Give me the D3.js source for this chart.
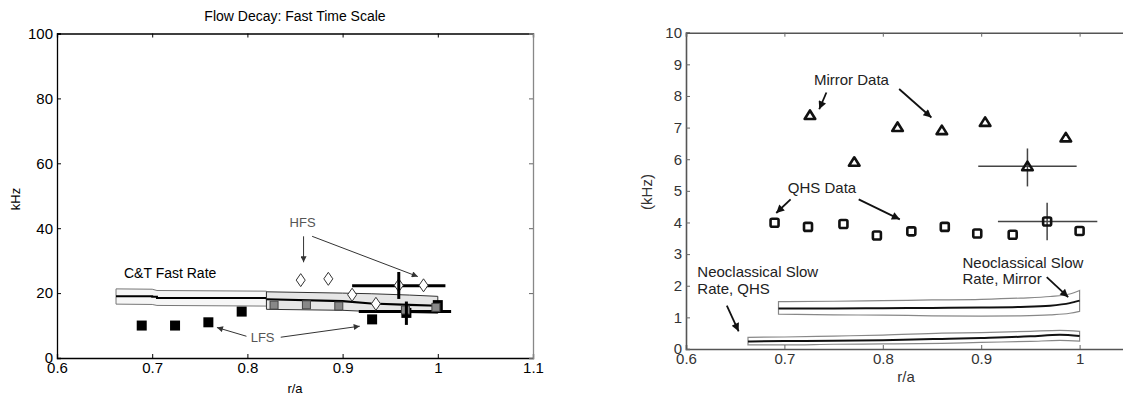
<!DOCTYPE html>
<html>
<head>
<meta charset="utf-8">
<script src="https://cdn.jsdelivr.net/npm/d3@7"></script>
<style>
  body { margin: 0; background: #fff; }
  svg { display: block; font-family: "Liberation Sans", Arial, sans-serif; }
</style>
</head>
<body>
<svg id="chart" width="1123" height="398"></svg>
<script>
"use strict";

// ---- data ----
const xTicks = [0.6, 0.7, 0.8, 0.9, 1, 1.1];
const xTicksRight = [0.6, 0.7, 0.8, 0.9, 1];
const yTicksLeft = [0, 20, 40, 60, 80, 100];
const yTicksRight = [0, 1, 2, 3, 4, 5, 6, 7, 8, 9, 10];

// left panel: flow decay, fast time scale (kHz)
const hfsX = [0.856, 0.885, 0.910, 0.935, 0.959, 0.985];
const hfsY = [24.0, 24.4, 19.5, 16.7, 22.4, 22.4];
const lfsX = [0.689, 0.724, 0.759, 0.794, 0.931, 0.967, 1.0];
const lfsY = [10.0, 10.0, 11.0, 14.3, 11.9, 13.9, 16.3];
const grayX = [0.828, 0.862, 0.896, 0.966, 0.998];
const grayY = [16.3, 16.4, 16.0, 14.8, 15.6];

const ctAX = [0.662, 0.70, 0.705, 0.82];
const ctAUp = [21.3, 21.2, 20.8, 20.6];
const ctAMid = [19.0, 18.9, 18.5, 18.1];
const ctALo = [16.6, 16.5, 16.2, 16.0];
const ctBX = [0.82, 0.90, 0.93, 0.97, 1.0];
const ctBUp = [20.4, 20.0, 19.8, 19.4, 19.0];
const ctBMid = [18.1, 17.5, 16.8, 16.4, 16.1];
const ctBLo = [15.0, 14.7, 14.3, 14.0, 13.8];

const barHX0 = [0.910, 0.917];
const barHX1 = [1.008, 1.014];
const barHY = [22.3, 14.3];
const barVX = [0.959, 0.967];
const barVY0 = [18.2, 10.2];
const barVY1 = [26.5, 17.4];

// right panel (kHz)
const mirrorX = [0.726, 0.771, 0.815, 0.860, 0.904, 0.947, 0.986];
const mirrorY = [7.40, 5.92, 7.02, 6.92, 7.18, 5.78, 6.69];
const qhsX = [0.690, 0.724, 0.760, 0.794, 0.829, 0.863, 0.896, 0.932, 0.967, 1.0];
const qhsY = [3.99, 3.86, 3.95, 3.59, 3.72, 3.86, 3.65, 3.61, 4.03, 3.73];

const errX = [0.947, 0.967];
const errY = [5.78, 4.03];
const errX0 = [0.897, 0.917];
const errX1 = [0.997, 1.018];
const errY0 = [5.14, 3.44];
const errY1 = [6.34, 4.62];

const neoMirX = [0.694, 0.75, 0.80, 0.85, 0.90, 0.94, 0.97, 0.99, 1.0];
const neoMirMid = [1.28, 1.28, 1.29, 1.30, 1.31, 1.33, 1.37, 1.45, 1.53];
const neoMirUp = [1.50, 1.51, 1.53, 1.55, 1.57, 1.61, 1.66, 1.74, 1.85];
const neoMirLo = [1.10, 1.08, 1.07, 1.05, 1.04, 1.05, 1.08, 1.13, 1.19];
const neoQhsX = [0.663, 0.70, 0.75, 0.80, 0.86, 0.90, 0.95, 0.98, 1.0];
const neoQhsMid = [0.24, 0.25, 0.26, 0.28, 0.32, 0.35, 0.40, 0.45, 0.41];
const neoQhsUp = [0.37, 0.38, 0.41, 0.44, 0.50, 0.52, 0.56, 0.59, 0.56];
const neoQhsLo = [0.13, 0.13, 0.15, 0.16, 0.18, 0.21, 0.24, 0.27, 0.25];

const svg = d3.select("#chart");

// arrow heads
const defs = svg.append("defs");
function arrowHead(id, color, w, h) {
  defs.append("marker")
    .attr("id", id)
    .attr("viewBox", "0 0 10 10")
    .attr("refX", 10).attr("refY", 5)
    .attr("markerUnits", "userSpaceOnUse")
    .attr("markerWidth", w).attr("markerHeight", h)
    .attr("orient", "auto")
    .append("path")
    .attr("d", "M0,0L10,5L0,10Z")
    .attr("fill", color);
}
arrowHead("headL", "#333", 9, 6);
arrowHead("headR", "#111", 11, 8);

function arrow(g, x, y, x0, y0, x1, y1, color, width, head) {
  g.append("line")
    .attr("x1", x(x0)).attr("y1", y(y0))
    .attr("x2", x(x1)).attr("y2", y(y1))
    .attr("stroke", color).attr("stroke-width", width)
    .attr("marker-end", "url(#" + head + ")");
}

// ================= LEFT PANEL =================
const xL = d3.scaleLinear().domain([0.6, 1.1]).range([57, 533]);
const yL = d3.scaleLinear().domain([0, 100]).range([358, 33.5]);
const gL = svg.append("g");

gL.append("text")
  .attr("x", 295).attr("y", 21)
  .attr("text-anchor", "middle")
  .style("font-size", "14px")
  .text("Flow Decay: Fast Time Scale");

// C&T band, part A
const idxA = d3.range(ctAX.length);
const areaA = d3.area().x(i => xL(ctAX[i])).y0(i => yL(ctALo[i])).y1(i => yL(ctAUp[i]));
gL.append("path").attr("d", areaA(idxA))
  .attr("fill", "#f6f6f6").attr("stroke", "#777").attr("stroke-width", 1);
gL.append("path")
  .attr("d", d3.line().x(i => xL(ctAX[i])).y(i => yL(ctAMid[i])).curve(d3.curveStepAfter)(idxA))
  .attr("fill", "none").attr("stroke", "#000").attr("stroke-width", 2);

// C&T band, part B
const idxB = d3.range(ctBX.length);
const areaB = d3.area().x(i => xL(ctBX[i])).y0(i => yL(ctBLo[i])).y1(i => yL(ctBUp[i]));
gL.append("path").attr("d", areaB(idxB))
  .attr("fill", "#e6e6e6").attr("stroke", "#333").attr("stroke-width", 1);
gL.append("path")
  .attr("d", d3.line().x(i => xL(ctBX[i])).y(i => yL(ctBMid[i]))(idxB))
  .attr("fill", "none").attr("stroke", "#000").attr("stroke-width", 2.2);

// horizontal bars
gL.selectAll("line.hbar").data(barHY).join("line")
  .attr("class", "hbar")
  .attr("x1", (d, i) => xL(barHX0[i])).attr("x2", (d, i) => xL(barHX1[i]))
  .attr("y1", d => yL(d)).attr("y2", d => yL(d))
  .attr("stroke", "#000").attr("stroke-width", 3);

// LFS black squares
const sq = 10;
gL.selectAll("rect.lfs").data(lfsX).join("rect")
  .attr("class", "lfs")
  .attr("x", d => xL(d) - sq / 2)
  .attr("y", (d, i) => yL(lfsY[i]) - sq / 2)
  .attr("width", sq).attr("height", sq)
  .attr("fill", "#000");

// gray squares
const gs = 8;
gL.selectAll("rect.gray").data(grayX).join("rect")
  .attr("class", "gray")
  .attr("x", d => xL(d) - gs / 2)
  .attr("y", (d, i) => yL(grayY[i]) - gs / 2)
  .attr("width", gs).attr("height", gs)
  .attr("fill", "#888").attr("stroke", "#444").attr("stroke-width", 1);

// HFS diamonds
gL.selectAll("path.hfs").data(hfsX).join("path")
  .attr("class", "hfs")
  .attr("transform", (d, i) => "translate(" + xL(d) + "," + yL(hfsY[i]) + ")")
  .attr("d", "M0,-6.5L4.5,0L0,6.5L-4.5,0Z")
  .attr("fill", "#fff").attr("stroke", "#333").attr("stroke-width", 1);

// vertical error bars
gL.selectAll("line.vbar").data(barVX).join("line")
  .attr("class", "vbar")
  .attr("x1", d => xL(d)).attr("x2", d => xL(d))
  .attr("y1", (d, i) => yL(barVY0[i])).attr("y2", (d, i) => yL(barVY1[i]))
  .attr("stroke", "#000").attr("stroke-width", 3);

// annotations
gL.append("text").attr("x", 124).attr("y", 278)
  .style("font-size", "14px").text("C&T Fast Rate");
gL.append("text").attr("x", xL(0.858)).attr("y", yL(40.3))
  .attr("text-anchor", "middle").attr("fill", "#555")
  .style("font-size", "13px").text("HFS");
gL.append("text").attr("x", xL(0.816)).attr("y", yL(5.0))
  .attr("text-anchor", "middle").attr("fill", "#555")
  .style("font-size", "13px").text("LFS");
arrow(gL, xL, yL, 0.859, 37.5, 0.859, 29.5, "#333", 1, "headL");
arrow(gL, xL, yL, 0.868, 37.5, 0.979, 25.1, "#333", 1, "headL");
arrow(gL, xL, yL, 0.799, 6.7, 0.768, 9.4, "#333", 1, "headL");
arrow(gL, xL, yL, 0.835, 6.4, 0.918, 9.8, "#333", 1, "headL");

// axes
const axLB = gL.append("g").attr("transform", "translate(0,358)")
  .call(d3.axisBottom(xL).tickValues(xTicks).tickFormat(d3.format("")).tickSize(-4).tickPadding(6));
const axLL = gL.append("g").attr("transform", "translate(57,0)")
  .call(d3.axisLeft(yL).tickValues(yTicksLeft).tickSize(-4).tickPadding(4));
const axLT = gL.append("g").attr("transform", "translate(0,33.5)")
  .call(d3.axisTop(xL).tickValues(xTicks).tickFormat("").tickSize(-4));
const axLR = gL.append("g").attr("transform", "translate(533,0)")
  .call(d3.axisRight(yL).tickValues(yTicksLeft).tickFormat("").tickSize(-4));
[axLB, axLL, axLT].forEach(a => {
  a.select(".domain").attr("stroke", "#000").attr("stroke-width", 1.3);
  a.selectAll(".tick line").attr("stroke", "#000");
  a.selectAll("text").style("font-size", "15px").attr("fill", "#000")
    .style("font-family", "'Liberation Sans', Arial, sans-serif");
});
axLR.select(".domain").attr("stroke", "#888").attr("stroke-width", 1.3);
axLR.selectAll(".tick line").attr("stroke", "#666");
axLB.selectAll("text").attr("dy", "0.62em");

gL.append("text").attr("x", 295).attr("y", 393)
  .attr("text-anchor", "middle").style("font-size", "13px").text("r/a");
gL.append("text")
  .attr("transform", "translate(20,199) rotate(-90)")
  .attr("text-anchor", "middle").style("font-size", "13px").text("kHz");

// ================= RIGHT PANEL =================
const xR = d3.scaleLinear().domain([0.6, 1.1]).range([686, 1178]);
const yR = d3.scaleLinear().domain([0, 10]).range([349, 32.7]);
const gR = svg.append("g");

function band(g, xs, lo, up, mid) {
  const idx = d3.range(xs.length);
  g.append("path")
    .attr("d", d3.area().x(i => xR(xs[i])).y0(i => yR(lo[i])).y1(i => yR(up[i])).curve(d3.curveMonotoneX)(idx))
    .attr("fill", "#fff").attr("stroke", "#888").attr("stroke-width", 1.2);
  g.append("path")
    .attr("d", d3.line().x(i => xR(xs[i])).y(i => yR(mid[i])).curve(d3.curveMonotoneX)(idx))
    .attr("fill", "none").attr("stroke", "#111").attr("stroke-width", 2);
}
band(gR, neoMirX, neoMirLo, neoMirUp, neoMirMid);
band(gR, neoQhsX, neoQhsLo, neoQhsUp, neoQhsMid);

// error crosses
gR.selectAll("line.eh").data(errX).join("line")
  .attr("class", "eh")
  .attr("x1", (d, i) => xR(errX0[i])).attr("x2", (d, i) => xR(errX1[i]))
  .attr("y1", (d, i) => yR(errY[i])).attr("y2", (d, i) => yR(errY[i]))
  .attr("stroke", "#444").attr("stroke-width", 1.5);
gR.selectAll("line.ev").data(errX).join("line")
  .attr("class", "ev")
  .attr("x1", d => xR(d)).attr("x2", d => xR(d))
  .attr("y1", (d, i) => yR(errY0[i])).attr("y2", (d, i) => yR(errY1[i]))
  .attr("stroke", "#444").attr("stroke-width", 1.5);

// mirror triangles
gR.selectAll("path.mir").data(mirrorX).join("path")
  .attr("class", "mir")
  .attr("transform", (d, i) => "translate(" + xR(d) + "," + yR(mirrorY[i]) + ")")
  .attr("d", "M0,-4.5L5.3,4L-5.3,4Z")
  .attr("fill", "none").attr("stroke", "#111").attr("stroke-width", 2.6)
  .attr("stroke-linejoin", "round");

// QHS squares
const qs = 8;
gR.selectAll("rect.qhs").data(qhsX).join("rect")
  .attr("class", "qhs")
  .attr("x", d => xR(d) - qs / 2)
  .attr("y", (d, i) => yR(qhsY[i]) - qs / 2)
  .attr("width", qs).attr("height", qs).attr("rx", 1.5)
  .attr("fill", "none").attr("stroke", "#111").attr("stroke-width", 2.6);

// annotations
const tR = gR.append("g").attr("fill", "#222").style("font-size", "15px");
tR.append("text").attr("x", xR(0.730)).attr("y", yR(8.36)).text("Mirror Data");
tR.append("text").attr("x", xR(0.7035)).attr("y", yR(4.92)).text("QHS Data");
tR.append("text").attr("x", xR(0.6115)).attr("y", yR(2.28)).text("Neoclassical Slow");
tR.append("text").attr("x", xR(0.6115)).attr("y", yR(1.75)).text("Rate, QHS");
tR.append("text").attr("x", xR(0.881)).attr("y", yR(2.56)).text("Neoclassical Slow");
tR.append("text").attr("x", xR(0.881)).attr("y", yR(2.04)).text("Rate, Mirror");

arrow(gR, xR, yR, 0.7427, 8.11, 0.7354, 7.58, "#111", 1.8, "headR");
arrow(gR, xR, yR, 0.8166, 8.22, 0.8494, 7.32, "#111", 1.8, "headR");
arrow(gR, xR, yR, 0.7063, 4.73, 0.6917, 4.30, "#111", 1.8, "headR");
arrow(gR, xR, yR, 0.7755, 4.73, 0.8173, 4.10, "#111", 1.8, "headR");
arrow(gR, xR, yR, 0.6415, 1.37, 0.6535, 0.56, "#111", 1.8, "headR");
arrow(gR, xR, yR, 0.9666, 2.27, 0.9884, 1.64, "#111", 1.8, "headR");

// axes
const axRB = gR.append("g").attr("transform", "translate(0,349)")
  .call(d3.axisBottom(xR).tickValues(xTicksRight).tickFormat(d3.format("")).tickSize(-4).tickPadding(6));
const axRL = gR.append("g").attr("transform", "translate(686,0)")
  .call(d3.axisLeft(yR).tickValues(yTicksRight).tickSize(-4).tickPadding(4));
const axRT = gR.append("g").attr("transform", "translate(0,32.7)")
  .call(d3.axisTop(xR).tickValues(xTicksRight).tickFormat("").tickSize(-4));
[axRB, axRL, axRT].forEach(a => {
  a.select(".domain").attr("stroke", "#555").attr("stroke-width", 1.6);
  a.selectAll(".tick line").attr("stroke", "#666");
  a.selectAll("text").style("font-size", "15px").attr("fill", "#333")
    .style("font-family", "'Liberation Sans', Arial, sans-serif");
});
axRB.selectAll("text").attr("dy", "0.62em");

gR.append("text").attr("x", 906).attr("y", 382)
  .attr("text-anchor", "middle").attr("fill", "#333")
  .style("font-size", "15px").text("r/a");
gR.append("text")
  .attr("transform", "translate(652,192) rotate(-90)")
  .attr("text-anchor", "middle").attr("fill", "#333")
  .style("font-size", "15px").text("(kHz)");
</script>
</body>
</html>
